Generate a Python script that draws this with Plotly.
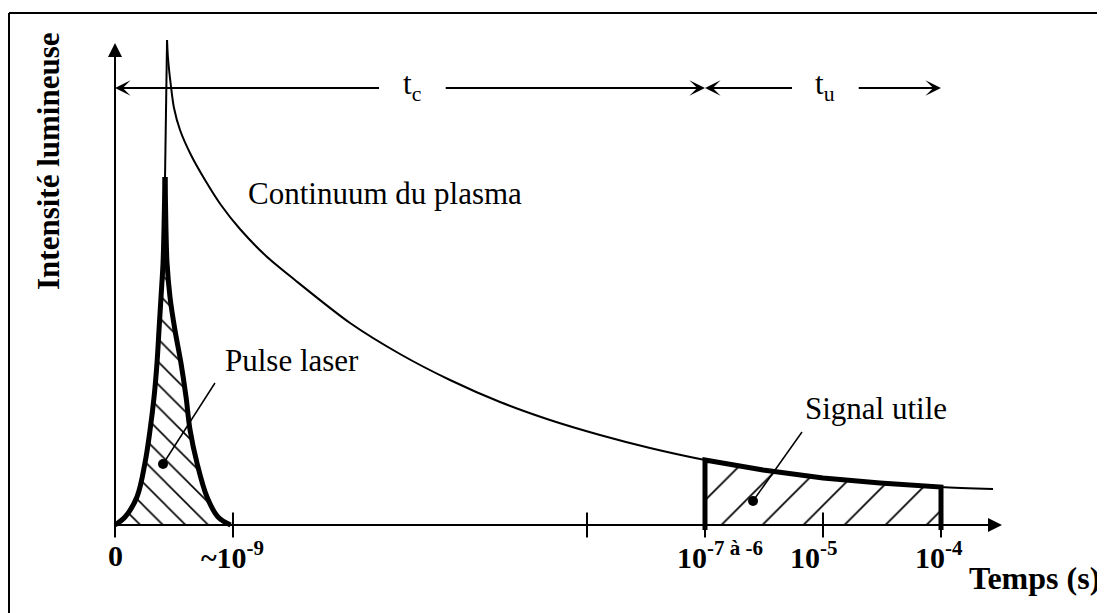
import plotly.graph_objects as go

# ---- values ----
# x: time, in tick steps (0, ~1e-9, ..., 1e-4) ; y: light intensity (a.u.)
continuum_t = [0.441, 0.449, 0.475, 0.500, 0.551, 0.644, 0.763, 0.898, 1.059, 1.280,
               1.525, 1.992, 2.415, 2.839, 3.263, 3.686, 4.110, 4.534, 5.0, 5.492,
               6.0, 6.483, 7.0, 7.441]
continuum_i = [4.85, 4.67, 4.38, 4.17, 3.95, 3.70, 3.45, 3.20, 2.96, 2.69,
               2.45, 2.02, 1.71, 1.45, 1.23, 1.05, 0.90, 0.77, 0.65, 0.55,
               0.47, 0.42, 0.38, 0.36]

pulse_t = [0, 0.085, 0.186, 0.254, 0.297, 0.331, 0.356, 0.373, 0.390, 0.407, 0.415, 0.424,
           0.432, 0.441, 0.466, 0.508, 0.559, 0.602, 0.636, 0.695, 0.780, 0.873, 0.98]
pulse_i = [0, 0.08, 0.28, 0.62, 0.95, 1.28, 1.62, 1.95, 2.28, 2.62, 2.95, 3.48,
           2.95, 2.62, 2.28, 1.95, 1.62, 1.28, 0.95, 0.62, 0.28, 0.08, 0]

window_t = [5, 7]          # signal utile window
tc_span = [0, 5]
tu_span = [5, 7]

tick_vals = [0, 1, 4, 5, 6, 7]
tick_text = ["0", "~10<sup>-9</sup>", "", "10<sup>-7 à -6</sup>", "10<sup>-5</sup>", "10<sup>-4</sup>"]
tick_shift = [0, -1, 0, 15, -9, -2]   # px nudges of the labels

FONT = "Liberation Serif"
BLACK = "black"

# the page puts the figure 8px in from the corner, so the ranges take that into account
X0, Y0, SX, SY = 107, 517, 118, 100

fig = go.Figure()

# hatched laser pulse
fig.add_trace(go.Scatter(
    x=pulse_t, y=pulse_i, mode="lines", fill="toself",
    line=dict(width=0, color=BLACK, shape="spline", smoothing=0.6),
    fillcolor="white",
    fillpattern=dict(shape="\\", size=16, solidity=0.1, fgcolor=BLACK, fgopacity=1, bgcolor="white"),
))

# hatched useful signal window under the continuum
win = [(t, i) for t, i in zip(continuum_t, continuum_i) if window_t[0] <= t <= window_t[1]]
win_t = [t for t, _ in win]
win_i = [i for _, i in win]
fig.add_trace(go.Scatter(
    x=[window_t[0]] + win_t + [window_t[1]], y=[0] + win_i + [0],
    mode="lines", fill="toself", line=dict(width=0, color=BLACK),
    fillcolor="white",
    fillpattern=dict(shape="/", size=29, solidity=0.06, fgcolor=BLACK, fgopacity=1, bgcolor="white"),
))

# plasma continuum
fig.add_trace(go.Scatter(
    x=continuum_t, y=continuum_i, mode="lines",
    line=dict(width=2, color=BLACK, shape="spline", smoothing=0.8),
))

# thin top of the pulse
peak = pulse_i.index(max(pulse_i))
fig.add_trace(go.Scatter(
    x=[pulse_t[peak], continuum_t[0]], y=[pulse_i[peak], continuum_i[0]], mode="lines",
    line=dict(width=2, color=BLACK),
))

# thick pulse outline: rise and decay drawn separately so the tip stays sharp
for sl in (slice(0, peak + 1), slice(peak, None)):
    fig.add_trace(go.Scatter(
        x=pulse_t[sl], y=pulse_i[sl], mode="lines",
        line=dict(width=5, color=BLACK, shape="spline", smoothing=1.0),
    ))

# thick outline of signal window
fig.add_trace(go.Scatter(
    x=[window_t[0]] + win_t + [window_t[1]], y=[-0.05] + win_i + [-0.05],
    mode="lines", line=dict(width=5, color=BLACK),
))

# tick marks across the time axis
fig.add_trace(go.Scatter(
    x=tick_vals, y=[0] * len(tick_vals), mode="markers",
    marker=dict(symbol="line-ns", size=18, line=dict(width=2, color=BLACK)),
))

# leader lines + dots
fig.add_trace(go.Scatter(x=[0.407, 0.847], y=[0.61, 1.42], mode="lines", line=dict(width=1.5, color=BLACK)))
fig.add_trace(go.Scatter(x=[5.407, 5.822], y=[0.24, 0.93], mode="lines", line=dict(width=1.5, color=BLACK)))
fig.add_trace(go.Scatter(x=[0.407, 5.407], y=[0.61, 0.24], mode="markers",
                         marker=dict(size=10, color=BLACK)))

# axes as arrows
def arrow(x, y, ax, ay, head=2, size=1.4):
    fig.add_annotation(x=x, y=y, ax=ax, ay=ay, xref="x", yref="y", axref="x", ayref="y",
                       text="", showarrow=True, arrowhead=head, arrowsize=size,
                       arrowwidth=2, arrowcolor=BLACK, standoff=0, startstandoff=0)

arrow(7.517, 0, 0, 0)
arrow(0, 4.82, 0, -0.1)

# t_c / t_u dimension arrows
arrow_y = 4.37
for (a, b), sub in [(tc_span, "c"), (tu_span, "u")]:
    mid = (a + b) / 2
    arrow(a, arrow_y, mid - 0.25, arrow_y, head=3, size=1.3)
    arrow(b, arrow_y, mid + 0.29, arrow_y, head=3, size=1.3)
    fig.add_annotation(x=mid + 0.02, y=arrow_y, text=f"t<sub>{sub}</sub>", showarrow=False,
                       font=dict(family=FONT, size=31, color=BLACK), yshift=2)

# tick labels
for v, txt, sh in zip(tick_vals, tick_text, tick_shift):
    if txt:
        fig.add_annotation(x=v, y=-0.30, text=f"<b>{txt}</b>", showarrow=False, xshift=sh,
                           font=dict(family=FONT, size=30, color=BLACK))

txt_font = dict(family=FONT, size=31, color=BLACK)
fig.add_annotation(x=1.11, y=3.32, text="Continuum du plasma", showarrow=False,
                   xanchor="left", font=txt_font)
fig.add_annotation(x=0.915, y=1.65, text="Pulse laser", showarrow=False,
                   xanchor="left", font=txt_font)
fig.add_annotation(x=5.83, y=1.17, text="Signal utile", showarrow=False,
                   xanchor="left", font=txt_font)

fig.add_annotation(x=8.364, y=-0.53, text="<b>Temps (s)</b>", showarrow=False,
                   xanchor="right", font=dict(family=FONT, size=32, color=BLACK))
fig.add_annotation(x=-0.568, y=3.64, text="<b>Intensité lumineuse</b>", showarrow=False,
                   textangle=-90, font=dict(family=FONT, size=31, color=BLACK))

# outer frame (top and left edges visible)
fig.add_shape(type="line", xref="paper", yref="paper", x0=1 / 1105, x1=1 / 1105, y0=0, y1=1 - 5 / 613,
              line=dict(width=2, color=BLACK))
fig.add_shape(type="line", xref="paper", yref="paper", x0=1 / 1105, x1=1, y0=1 - 5 / 613, y1=1 - 5 / 613,
              line=dict(width=2, color=BLACK))

fig.update_layout(
    width=1105, height=613, margin=dict(l=0, r=0, t=0, b=0),
    paper_bgcolor="white", plot_bgcolor="white",
    showlegend=False, hovermode=False,
    xaxis=dict(range=[-X0 / SX, (1105 - X0) / SX], visible=False, fixedrange=True),
    yaxis=dict(range=[(Y0 - 613) / SY, Y0 / SY], visible=False, fixedrange=True),
)

fig.write_html("out.html")
